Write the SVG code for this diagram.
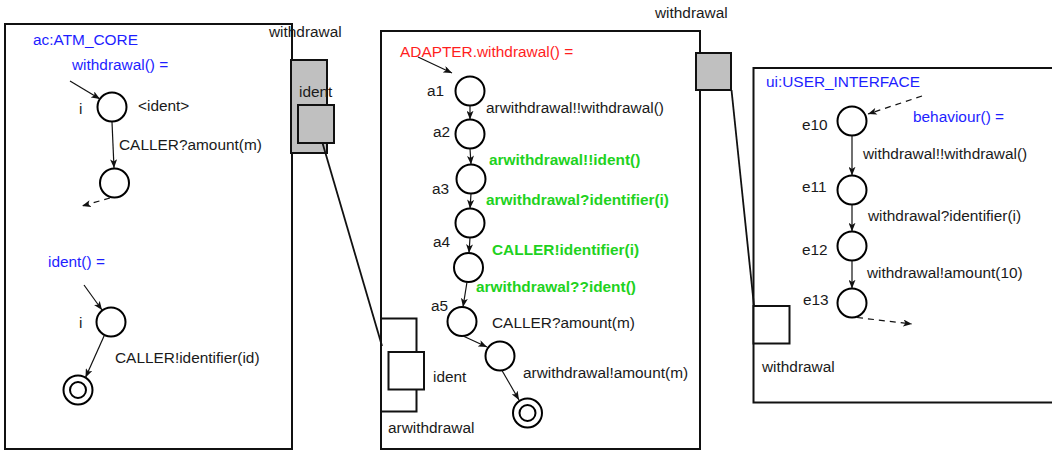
<svg xmlns="http://www.w3.org/2000/svg" width="1052" height="451" viewBox="0 0 1052 451">
<style>
text{font-family:"Liberation Sans",Arial,sans-serif;font-size:15.4px;fill:#1a1a1a}
.blue{fill:#1e1eff}
.red{fill:#ff1e1e}
.green{fill:#1ed21e;font-weight:bold}
.box{fill:none;stroke:#111;stroke-width:2}
.st{fill:#fff;stroke:#000;stroke-width:2}
.port{fill:#c0c0c0;stroke:#111;stroke-width:2}
.wport{fill:#fff;stroke:#111;stroke-width:2}
.tr{fill:none;stroke:#111;stroke-width:1.2;marker-end:url(#arr)}
.dash{fill:none;stroke:#111;stroke-width:1.2;stroke-dasharray:6 5;marker-end:url(#arr)}
.link{fill:none;stroke:#111;stroke-width:1.8}
</style>
<defs>
<marker id="arr" viewBox="0 0 10 8" refX="10" refY="4" markerWidth="9" markerHeight="7" orient="auto" markerUnits="userSpaceOnUse">
<path d="M0,0 L10,4 L0,8 L2.5,4 z" fill="#111"/>
</marker>
</defs>
<rect width="1052" height="451" fill="#fff"/>

<g id="atm_core">
<rect class="box" x="5" y="24" width="287" height="425"/>
<text class="blue" x="33" y="45">ac:ATM_CORE</text>
<text class="blue" x="72" y="70">withdrawal() =</text>
<text class="blue" x="48" y="267">ident() =</text>
</g>
<g id="atm_ports">
<rect class="port" x="291" y="60" width="36" height="93"/>
<rect class="port" x="298" y="105" width="36" height="38"/>
<text x="269" y="37">withdrawal</text>
<text x="299" y="97">ident</text>
</g>
<g id="atm_i1"><circle class="st" cx="112" cy="107" r="14.5"/><text x="79" y="114">i</text><text x="138" y="111">&lt;ident&gt;</text></g>
<g id="atm_s2"><circle class="st" cx="114.5" cy="183" r="14.5"/></g>
<g id="atm_i2"><circle class="st" cx="111" cy="322" r="14.5"/><text x="79" y="328">i</text></g>
<g id="atm_final"><circle class="st" cx="78" cy="390" r="14.5"/><circle class="st" cx="78" cy="390" r="8"/></g>

<g id="adapter">
<rect class="box" x="381" y="31" width="319" height="418"/>
<text class="red" x="400" y="57">ADAPTER.withdrawal() =</text>
</g>
<g id="adapter_ports">
<path class="box" d="M381,318.5 H416.5 V411.5 H381"/>
<rect class="wport" x="388.5" y="352" width="35.5" height="37.5"/>
<text x="433" y="382">ident</text>
<text x="388" y="433">arwithdrawal</text>
<rect class="port" x="696" y="53" width="35" height="37"/>
<text x="655" y="18">withdrawal</text>
</g>
<g id="a1"><circle class="st" cx="470" cy="91" r="14.5"/><text x="427" y="96">a1</text></g>
<g id="a2"><circle class="st" cx="470" cy="134" r="14.5"/><text x="433" y="137">a2</text></g>
<g id="a3"><circle class="st" cx="471" cy="179" r="14.5"/><text x="432" y="194">a3</text></g>
<g id="a4"><circle class="st" cx="470" cy="223" r="14.5"/><text x="433" y="247">a4</text></g>
<g id="a4b"><circle class="st" cx="468.5" cy="267.5" r="14.5"/></g>
<g id="a5"><circle class="st" cx="462" cy="321.5" r="14.5"/><text x="431" y="311">a5</text></g>
<g id="a6"><circle class="st" cx="500" cy="356" r="14.5"/></g>
<g id="a_final"><circle class="st" cx="527.5" cy="413" r="14.5"/><circle class="st" cx="527.5" cy="413" r="8"/></g>

<g id="user_interface">
<rect class="box" x="753.5" y="68" width="310" height="334.5"/>
<text class="blue" x="766" y="87">ui:USER_INTERFACE</text>
<text class="blue" x="913" y="122">behaviour() =</text>
</g>
<g id="ui_port">
<rect class="wport" x="753.5" y="306" width="36" height="37.5"/>
<text x="762" y="372">withdrawal</text>
</g>
<g id="e10"><circle class="st" cx="852" cy="121" r="14.5"/><text x="802" y="130">e10</text></g>
<g id="e11"><circle class="st" cx="852" cy="190" r="14.5"/><text x="802" y="192">e11</text></g>
<g id="e12"><circle class="st" cx="852" cy="246" r="14.5"/><text x="802" y="255">e12</text></g>
<g id="e13"><circle class="st" cx="852" cy="303" r="14.5"/><text x="803" y="305">e13</text></g>

<g id="connectors">
<line class="link" x1="322.5" y1="143" x2="382" y2="346"/>
<line class="link" x1="731.5" y1="90" x2="754" y2="306"/>

<line class="tr" x1="70" y1="81" x2="100" y2="99"/>
<line class="tr" x1="112" y1="122" x2="114" y2="168"/>
<text x="119" y="150">CALLER?amount(m)</text>
<line class="dash" x1="110" y1="198" x2="82" y2="206"/>
<line class="tr" x1="84" y1="285" x2="102" y2="310"/>
<line class="tr" x1="104.5" y1="335" x2="85.5" y2="377.5"/>
<text x="115" y="363">CALLER!identifier(id)</text>

<line class="tr" x1="418" y1="57" x2="452" y2="73"/>
<line class="tr" x1="470" y1="105.5" x2="470" y2="119.5"/>
<text x="486" y="113">arwithdrawal!!withdrawal()</text>
<line class="tr" x1="470" y1="148.5" x2="471" y2="164.5"/>
<text class="green" x="489" y="165">arwithdrawal!!ident()</text>
<line class="tr" x1="471" y1="193.5" x2="470" y2="208.5"/>
<text class="green" x="486" y="205">arwithdrawal?identifier(i)</text>
<line class="tr" x1="470" y1="237.5" x2="469" y2="253"/>
<text class="green" x="492" y="255">CALLER!identifier(i)</text>
<line class="tr" x1="467" y1="282" x2="463" y2="307"/>
<text class="green" x="476" y="292">arwithdrawal??ident()</text>
<line class="tr" x1="462" y1="335.5" x2="487" y2="347"/>
<text x="492" y="328">CALLER?amount(m)</text>
<line class="tr" x1="502" y1="370.5" x2="519" y2="400"/>
<text x="523" y="378">arwithdrawal!amount(m)</text>

<line class="dash" x1="922" y1="96" x2="868" y2="114"/>
<line class="tr" x1="852" y1="135.5" x2="852" y2="175.5"/>
<text x="863" y="159">withdrawal!!withdrawal()</text>
<line class="tr" x1="852" y1="204.5" x2="852" y2="231.5"/>
<text x="868" y="221">withdrawal?identifier(i)</text>
<line class="tr" x1="852" y1="260.5" x2="852" y2="288.5"/>
<text x="867" y="278">withdrawal!amount(10)</text>
<line class="dash" x1="857" y1="317.5" x2="912" y2="324"/>
</g>
</svg>
